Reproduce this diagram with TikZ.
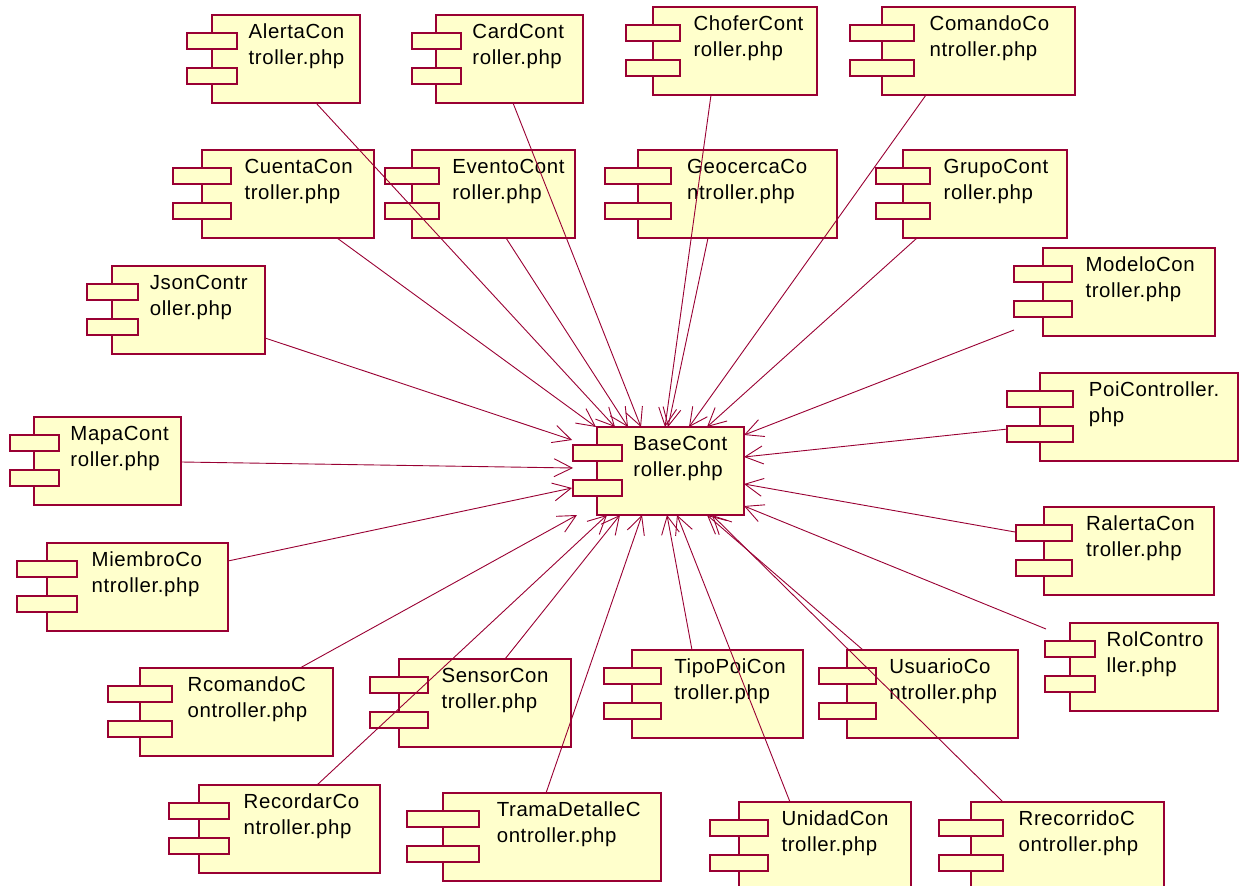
\documentclass[tikz,border=0pt]{standalone}
\usepackage{fontspec}
\setmainfont{Liberation Sans}[LetterSpace=3]
\usetikzlibrary{arrows.meta,calc}

\definecolor{rosered}{RGB}{153,0,51}
\definecolor{compfill}{RGB}{255,255,204}

\tikzset{
  compbox/.style={draw=rosered, fill=compfill, line width=1pt, rectangle,
    inner sep=0pt, outer sep=0pt, minimum height=44pt, anchor=north west},
  comptab/.style={draw=rosered, fill=compfill, line width=1pt},
  comptext/.style={anchor=base west, inner sep=0pt, font=\fontsize{10.2}{13}\selectfont},
  dep/.style={->, draw=rosered, line width=0.45pt},
}

% component: name, left, top, width, first line, second line
\newcommand{\umlcomp}[6]{%
  \node[compbox, minimum width=#4*0.5pt] (#1) at (#2,#3) {};
  \draw[comptab] ($(#1.north west)+(-#4/6,18)$) rectangle ++(#4/3,16);
  \draw[comptab] ($(#1.north west)+(-#4/6,53)$) rectangle ++(#4/3,16);
  \node[comptext] (#1-name) at ($(#1.north west)+(0.245*#4,23.5)$)
    {\begin{tabular}[t]{@{}l@{}}#5\\#6\end{tabular}};
}

\begin{document}
\begin{tikzpicture}[x=0.5pt,y=-0.5pt,>={Straight Barb[length=9pt,width=9pt]}]
  \useasboundingbox (0,0) rectangle (1245,886);

  % top rows
  \umlcomp{alerta}{212}{15}{148}{AlertaCon}{troller.php}
  \umlcomp{card}{436}{15}{147}{CardCont}{roller.php}
  \umlcomp{chofer}{653}{7}{164}{ChoferCont}{roller.php}
  \umlcomp{comando}{882}{7}{193}{ComandoCo}{ntroller.php}
  \umlcomp{cuenta}{202}{150}{172}{CuentaCon}{troller.php}
  \umlcomp{evento}{412}{150}{163}{EventoCont}{roller.php}
  \umlcomp{geocerca}{638}{150}{199}{GeocercaCo}{ntroller.php}
  \umlcomp{grupo}{903}{150}{164}{GrupoCont}{roller.php}

  % left and right columns
  \umlcomp{json}{112}{266}{153}{JsonContr}{oller.php}
  \umlcomp{mapa}{34}{417}{147}{MapaCont}{roller.php}
  \umlcomp{miembro}{47}{543}{181}{MiembroCo}{ntroller.php}
  \umlcomp{modelo}{1043}{248}{172}{ModeloCon}{troller.php}
  \umlcomp{poi}{1040}{373}{198}{PoiController.}{php}
  \umlcomp{ralerta}{1044}{507}{170}{RalertaCon}{troller.php}
  \umlcomp{rol}{1070}{623}{148}{RolContro}{ller.php}

  % bottom rows
  \umlcomp{rcomando}{140}{668}{193}{RcomandoC}{ontroller.php}
  \umlcomp{sensor}{399}{659}{172}{SensorCon}{troller.php}
  \umlcomp{tipopoi}{632}{650}{171}{TipoPoiCon}{troller.php}
  \umlcomp{usuario}{847}{650}{171}{UsuarioCo}{ntroller.php}
  \umlcomp{recordar}{199}{785}{181}{RecordarCo}{ntroller.php}
  \umlcomp{trama}{443}{793}{218}{TramaDetalleC}{ontroller.php}
  \umlcomp{unidad}{739}{802}{172}{UnidadCon}{troller.php}
  \umlcomp{rrecorrido}{971}{802}{193}{RrecorridoC}{ontroller.php}

  \umlcomp{base}{597}{427}{147}{BaseCont}{roller.php}

  % dependencies
  \draw[dep] ($(alerta.south west)+(104,0)$) -- ($(base.north west)+(18,0)$);
  \draw[dep] ($(card.south west)+(77,0)$) -- ($(base.north west)+(44,0)$);
  \draw[dep] ($(chofer.south west)+(58,0)$) -- ($(base.north west)+(68,0)$);
  \draw[dep] ($(comando.south west)+(44,0)$) -- ($(base.north west)+(92,0)$);
  \draw[dep] ($(cuenta.south west)+(135,0)$) -- ($(base.north west)+(-1,0)$);
  \draw[dep] ($(evento.south west)+(94,0)$) -- ($(base.north west)+(31,0)$);
  \draw[dep] ($(geocerca.south west)+(70,0)$) -- ($(base.north west)+(71,0)$);
  \draw[dep] ($(grupo.south west)+(14,0)$) -- ($(base.north west)+(110,0)$);
  \draw[dep] ($(json.north east)+(0,72)$) -- ($(base.north west)+(-25,13)$);
  \draw[dep] ($(mapa.north east)+(0,45)$) -- ($(base.north west)+(-24,41)$);
  \draw[dep] ($(miembro.north east)+(0,18)$) -- ($(base.north west)+(-25,61)$);
  \draw[dep] ($(modelo.north west)+(-29,82)$) -- ($(base.north east)+(0,8)$);
  \draw[dep] ($(poi.north west)+(-32,56)$) -- ($(base.north east)+(0,30)$);
  \draw[dep] ($(ralerta.north west)+(-29,25)$) -- ($(base.north east)+(0,57)$);
  \draw[dep] ($(rol.north west)+(-24,6)$) -- ($(base.north east)+(0,79)$);
  \draw[dep] ($(rcomando.north west)+(160,0)$) -- ($(base.south west)+(-20,0)$);
  \draw[dep] ($(recordar.north west)+(118,0)$) -- ($(base.south west)+(10,0)$);
  \draw[dep] ($(sensor.north west)+(106,0)$) -- ($(base.south west)+(23,0)$);
  \draw[dep] ($(trama.north west)+(103,0)$) -- ($(base.south west)+(45,0)$);
  \draw[dep] ($(tipopoi.north west)+(60,0)$) -- ($(base.south west)+(70,0)$);
  \draw[dep] ($(unidad.north west)+(51,0)$) -- ($(base.south west)+(80,0)$);
  \draw[dep] ($(usuario.north west)+(16,0)$) -- ($(base.south west)+(110,0)$);
  \draw[dep] ($(rrecorrido.north west)+(32,0)$) -- ($(base.south west)+(115,0)$);
\end{tikzpicture}
\end{document}
